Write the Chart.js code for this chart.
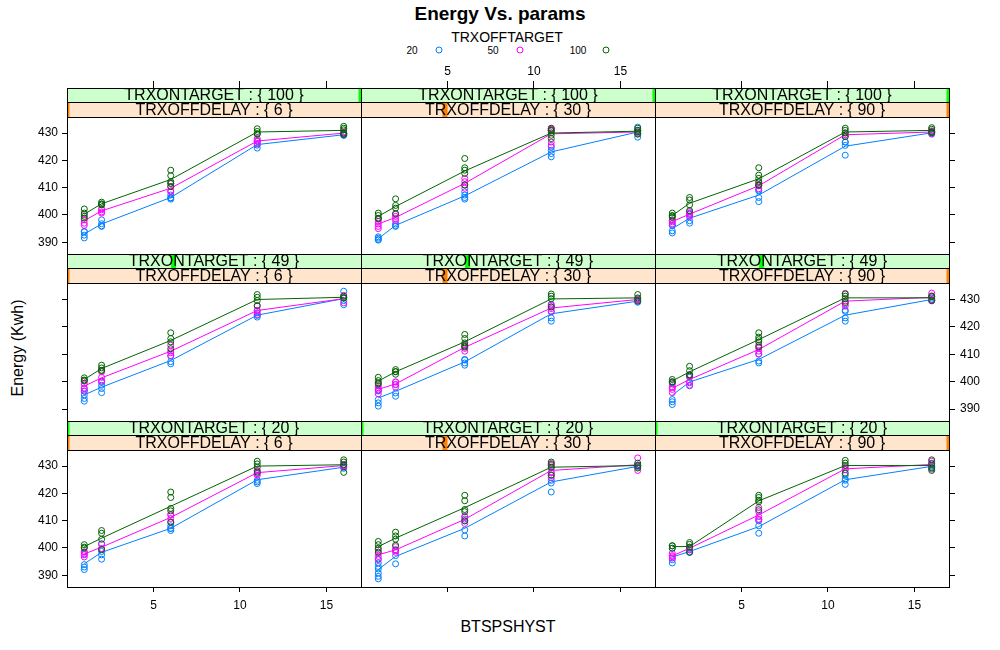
<!DOCTYPE html>
<html>
<head>
<meta charset="utf-8">
<script src="https://cdn.jsdelivr.net/npm/chart.js@4.4.1/dist/chart.umd.min.js"></script>
<style>
  body { margin: 0; background: #fff; font-family: "Liberation Sans", Arial, sans-serif; }
  #wrap { position: relative; width: 1000px; height: 650px; overflow: hidden; background: #fff; }
  #wrap canvas { position: absolute; }
  .txt { position: absolute; white-space: nowrap; color: #000; line-height: 1; transform: translate(-50%, -50%); }
  .dot { position: absolute; width: 5px; height: 5px; border: 1px solid; border-radius: 50%; transform: translate(-50%, -50%); }
</style>
</head>
<body>
<div id="wrap">
  <div class="txt" style="left:500px;top:13px;font-size:19px;font-weight:bold;">Energy Vs. params</div>
  <div class="txt" style="left:507px;top:37px;font-size:14px;">TRXOFFTARGET</div>
  <div id="legend"></div>
  <div class="txt" style="left:508px;top:627px;font-size:16px;">BTSPSHYST</div>
  <div class="txt" style="left:18px;top:348px;font-size:16px;transform:translate(-50%,-50%) rotate(-90deg);">Energy (Kwh)</div>
</div>
<script>
// factor levels
const xLevels = [1, 2, 6, 11, 16];           // BTSPSHYST
const onTargets = [100, 49, 20];             // TRXONTARGET, panel rows top to bottom
const onRange = [20, 100];
const offDelays = [6, 30, 90];               // TRXOFFDELAY, panel columns
const offRange = [6, 90];
const offTargets = ['20', '50', '100'];      // TRXOFFTARGET groups
const xTicks = [5, 10, 15];
const yTicks = [390, 400, 410, 420, 430];

// Energy readings per panel: [offtarget 20, 50, 100], each with one list per BTSPSHYST level
const on100_off6 = [
  [[393.8, 392.6, 391.6, 394.0], [398.2, 396.8, 395.8, 396.0], [407.3, 406.2, 405.8, 406.3], [426.1, 425.6, 424.5, 427.0], [429.8, 429.2, 429.4, 429.2]],
  [[398.2, 397.0, 396.2, 400.2], [401.9, 400.7, 402.3, 401.1], [410.4, 408.8, 411.5, 408.5], [427.3, 426.1, 428.0, 427.0], [430.4, 429.8, 430.0, 429.8]],
  [[402.2, 400.7, 399.5, 398.8], [404.7, 403.9, 403.7, 404.1], [416.4, 414.4, 412.2, 410.4, 411.6], [431.6, 430.6, 429.8, 429.6], [432.5, 431.8, 431.2, 430.0, 429.5]]
];
const on100_off30 = [
  [[392.0, 391.5, 390.8, 391.0], [396.7, 395.8, 396.1], [408.5, 407.3, 405.8, 406.4], [423.7, 422.5, 421.3, 424.9], [432.2, 431.0, 428.5, 429.9]],
  [[397.6, 396.7, 395.8, 395.0, 398.4], [399.5, 398.7, 397.9, 400.3], [412.2, 411.0, 409.8, 413.4], [431.6, 431.4, 431.2, 431.0, 430.8, 426.7, 425.5], [431.0, 430.4, 429.8]],
  [[400.7, 399.8, 398.8, 398.7], [405.9, 403.5, 402.5, 400.5], [420.7, 417.3, 416.4, 415.2, 411.0], [431.8, 431.0, 430.1, 429.2, 428.0], [431.8, 431.0, 430.4, 429.6]]
];
const on100_off90 = [
  [[394.2, 393.4, 396.2, 396.2], [397.0, 397.9, 399.6, 400.7], [408.8, 406.4, 404.9, 409.1], [426.7, 425.5, 421.9, 426.7], [430.6, 430.1, 429.6]],
  [[398.0, 397.5, 396.8, 398.1], [401.2, 400.3, 399.4, 400.3], [411.8, 410.7, 409.6, 410.7], [430.0, 429.4, 428.8], [430.8, 430.4, 429.8, 430.6]],
  [[400.7, 399.8, 399.1, 399.6], [406.4, 405.5, 403.7, 401.6], [417.3, 414.6, 413.4, 412.2, 411.0, 411.0], [431.8, 431.0, 430.1, 428.7], [432.0, 431.4, 430.4, 430.2]]
];
const on49_off6 = [
  [[396.6, 395.2, 393.9, 392.9, 397.4], [398.7, 397.5, 396.0, 399.8], [409.3, 406.5, 407.3], [425.0, 423.5, 424.1], [432.9, 430.5, 429.5, 428.0]],
  [[399.2, 397.7, 396.5, 400.2], [403.6, 401.6, 400.2, 400.2], [413.3, 411.1, 410.5, 409.5], [427.5, 425.9, 424.4, 425.8], [430.5, 428.7, 431.4]],
  [[401.4, 400.4, 400.6], [406.0, 405.0, 404.1, 404.1], [417.8, 415.7, 414.5, 412.0], [431.7, 430.7, 429.5, 427.7], [431.1, 430.5, 430.5]]
];
const on49_off30 = [
  [[393.5, 392.3, 391.1, 397.0, 396.6], [395.9, 394.7, 398.9], [408.1, 406.8, 406.0, 407.9], [425.4, 423.2, 422.0, 428.2], [429.7, 429.3, 428.9]],
  [[397.8, 396.8, 395.6, 398.6], [399.9, 399.0, 398.0, 399.9], [413.5, 412.1, 411.1, 413.3], [427.8, 426.6, 425.6, 427.2], [430.2, 429.8, 429.7]],
  [[401.6, 400.4, 399.2, 399.6], [404.4, 403.6, 402.7, 403.7], [417.2, 415.7, 414.1, 412.9, 412.6], [431.9, 431.1, 430.2, 427.2], [431.7, 430.5, 429.3]]
];
const on49_off90 = [
  [[393.5, 392.7, 391.7, 399.6, 398.0], [399.6, 398.5, 401.6], [407.5, 406.8, 410.0], [425.6, 423.2, 422.0, 426.0], [430.4, 429.9, 429.4]],
  [[398.0, 397.2, 396.0, 399.2], [402.0, 399.9, 398.7, 402.6], [412.3, 411.1, 410.1, 413.3], [429.3, 428.3, 427.5, 432.1], [432.2, 431.2, 429.8, 429.6]],
  [[400.8, 399.9, 400.0], [405.6, 404.0, 402.5, 402.3], [417.8, 416.2, 415.3, 414.5, 412.7], [431.9, 431.1, 430.2, 428.8], [431.1, 429.5, 430.9]]
];
const on20_off6 = [
  [[393.9, 393.0, 392.1, 397.8], [398.7, 397.5, 395.9, 401.5], [408.1, 407.2, 406.4, 407.1], [424.8, 424.2, 423.6, 427.4], [430.0, 429.6, 429.2]],
  [[398.4, 397.5, 396.7, 398.6], [401.5, 399.6, 399.8], [412.1, 410.8, 409.6, 412.3], [428.4, 427.2, 426.6, 428.2], [430.6, 430.2, 429.8]],
  [[401.2, 400.3, 400.0], [406.4, 405.4, 403.2, 399.4], [420.5, 418.5, 414.5, 413.6, 409.4], [431.8, 430.8, 429.6, 427.8], [432.3, 431.5, 430.5, 427.7]]
];
const on20_off30 = [
  [[394.5, 393.2, 392.3, 390.8, 389.6, 388.7, 396.0], [397.2, 394.2, 399.3], [406.6, 404.4, 410.6], [424.8, 423.8, 420.5, 427.7], [430.2, 429.9, 429.6]],
  [[398.1, 396.9, 395.7, 399.3], [400.5, 399.3, 398.4, 399.0], [411.5, 410.0, 409.0, 411.5], [431.0, 430.2, 427.5, 426.6, 425.8, 429.3], [433.0, 428.4, 430.2, 430.4]],
  [[402.4, 401.2, 399.9, 398.5], [405.8, 404.4, 403.2, 401.0], [419.3, 417.3, 414.1, 413.3, 409.9], [431.5, 430.6, 429.6, 426.7], [431.1, 430.2, 429.3]]
];
const on20_off90 = [
  [[395.7, 394.5, 399.9], [399.3, 398.4, 398.4], [408.1, 405.4, 409.9], [426.6, 424.8, 423.3, 425.3], [430.3, 429.9, 429.5]],
  [[398.1, 396.8, 396.3, 397.2], [400.3, 399.3, 400.1], [414.8, 413.3, 411.5, 410.5, 410.4], [429.6, 428.7, 428.7], [431.8, 431.1, 428.9]],
  [[400.8, 399.9, 400.8], [402.0, 401.3, 400.3, 398.5], [419.3, 418.5, 417.5, 416.9, 414.0], [432.1, 431.1, 430.2, 427.4], [432.3, 430.8, 428.4, 429.3]]
];

const panels = [
  [on100_off6, on100_off30, on100_off90],
  [on49_off6, on49_off30, on49_off90],
  [on20_off6, on20_off30, on20_off90]
];

// layout (lattice style)
const colors = ['#0080ff', '#ff00ff', '#006400'];
const colLeft = [67, 361, 655];
const PW = 294;
const rowTop = [88, 254, 421];
const rowBottom = [254, 421, 587];
const STRIP = 29;
const M = 45;
const X_MIN = 0, X_MAX = 17;
const Y_MIN = 385.7, Y_MAX = 435.9;
const tickFont = { family: '"Liberation Sans", Arial, sans-serif', size: 12 };

const mean = a => a.reduce((s, v) => s + v, 0) / a.length;

// legend
const legend = document.getElementById('legend');
const legendX = [[412, 439], [493, 520], [578, 606]];
offTargets.forEach((t, i) => {
  const lab = document.createElement('div');
  lab.className = 'txt';
  lab.style.cssText = `left:${legendX[i][0]}px;top:51px;font-size:10px;`;
  lab.textContent = t;
  legend.appendChild(lab);
  const dot = document.createElement('div');
  dot.className = 'dot';
  dot.style.cssText = `left:${legendX[i][1]}px;top:50px;border-color:${colors[i]};`;
  legend.appendChild(dot);
});

// strips drawn above each panel
const stripPlugin = {
  id: 'strips',
  afterDraw(chart, args, opts) {
    const { ctx, chartArea: a } = chart;
    const left = Math.round(a.left), right = Math.round(a.right);
    const yBot = Math.round(a.top);
    const yMid = yBot - 15;
    const yTop = yBot - STRIP;
    const strips = [
      { y0: yTop, y1: yMid, bg: '#ccffcc', mark: '#00ff00', frac: opts.onFrac, text: 'TRXONTARGET : { ' + opts.on + ' }' },
      { y0: yMid, y1: yBot, bg: '#ffe5cc', mark: '#ff7f00', frac: opts.offFrac, text: 'TRXOFFDELAY : { ' + opts.off + ' }' }
    ];
    ctx.save();
    strips.forEach(s => {
      ctx.fillStyle = s.bg;
      ctx.fillRect(left, s.y0, right - left, s.y1 - s.y0);
      ctx.save();
      ctx.beginPath();
      ctx.rect(left, s.y0, right - left, s.y1 - s.y0);
      ctx.clip();
      const mx = left + s.frac * (right - left);
      ctx.fillStyle = s.mark;
      ctx.fillRect(mx - 2.5, s.y0, 5, s.y1 - s.y0);
      ctx.restore();
      ctx.fillStyle = '#000';
      ctx.font = '16px "Liberation Sans", Arial, sans-serif';
      ctx.textAlign = 'center';
      ctx.textBaseline = 'middle';
      ctx.fillText(s.text, (left + right) / 2, (s.y0 + s.y1) / 2 + 1);
    });
    // outlines, one pixel each
    ctx.strokeStyle = '#000';
    ctx.lineWidth = 1;
    ctx.beginPath();
    [yTop, yMid].forEach(y => { ctx.moveTo(left, y + 0.5); ctx.lineTo(right + 1, y + 0.5); });
    ctx.moveTo(left + 0.5, yTop); ctx.lineTo(left + 0.5, yBot);
    ctx.moveTo(right + 0.5, yTop); ctx.lineTo(right + 0.5, yBot);
    ctx.stroke();
    ctx.restore();
  }
};

function makePanel(r, c) {
  const groups = panels[r][c];
  const canvas = document.createElement('canvas');
  const w = PW + 2 * M;
  const h = rowBottom[r] - rowTop[r] + 2 * M;
  canvas.width = w;
  canvas.height = h;
  canvas.style.left = (colLeft[c] - M) + 'px';
  canvas.style.top = (rowTop[r] - M) + 'px';
  canvas.style.width = w + 'px';
  canvas.style.height = h + 'px';
  document.getElementById('wrap').appendChild(canvas);

  const datasets = [];
  groups.forEach((series, s) => {
    const pts = [];
    series.forEach((vals, k) => vals.forEach(v => pts.push({ x: xLevels[k], y: v })));
    datasets.push({
      data: pts,
      showLine: false,
      pointStyle: 'circle',
      pointRadius: 3,
      pointBorderWidth: 1,
      borderColor: colors[s],
      backgroundColor: 'rgba(0,0,0,0)',
      order: 5 - 2 * s
    });
    // lattice type "a": line through the group averages
    datasets.push({
      data: series.map((vals, k) => ({ x: xLevels[k], y: mean(vals) })),
      showLine: true,
      pointRadius: 0,
      borderWidth: 1,
      borderColor: colors[s],
      backgroundColor: colors[s],
      tension: 0,
      order: 4 - 2 * s
    });
  });

  const setX = s => { s.ticks = xTicks.map(v => ({ value: v })); };
  const setY = s => { s.ticks = yTicks.map(v => ({ value: v })); };
  const axisCommon = {
    border: { display: true, color: '#000', width: 1 },
  };

  new Chart(canvas, {
    type: 'scatter',
    data: { datasets },
    options: {
      responsive: false,
      animation: false,
      devicePixelRatio: 1,
      layout: { padding: 0 },
      plugins: {
        legend: { display: false },
        tooltip: { enabled: false },
        strips: {
          on: onTargets[r],
          off: offDelays[c],
          onFrac: (onTargets[r] - onRange[0]) / (onRange[1] - onRange[0]),
          offFrac: (offDelays[c] - offRange[0]) / (offRange[1] - offRange[0])
        }
      },
      scales: {
        x: {
          ...axisCommon,
          type: 'linear', position: 'bottom', min: X_MIN, max: X_MAX,
          afterBuildTicks: setX,
          afterFit: s => { s.height = M; },
          ticks: { display: r === 2 && c !== 1, padding: 6, font: tickFont, color: '#000' },
          grid: { drawOnChartArea: false, drawTicks: r === 2, tickLength: 5, color: '#000' }
        },
        xTop: {
          ...axisCommon,
          type: 'linear', position: 'top', min: X_MIN, max: X_MAX,
          afterBuildTicks: setX,
          afterFit: s => { s.height = M + STRIP; },
          ticks: { display: r === 0 && c === 1, padding: 2, font: tickFont, color: '#000' },
          grid: { drawOnChartArea: false, drawTicks: r === 0, tickLength: STRIP + 7, color: '#000' }
        },
        y: {
          ...axisCommon,
          type: 'linear', position: 'left', min: Y_MIN, max: Y_MAX,
          afterBuildTicks: setY,
          afterFit: s => { s.width = M; },
          ticks: { display: c === 0 && r !== 1, padding: 4, font: tickFont, color: '#000' },
          grid: { drawOnChartArea: false, drawTicks: c === 0, tickLength: 5, color: '#000' }
        },
        yRight: {
          ...axisCommon,
          type: 'linear', position: 'right', min: Y_MIN, max: Y_MAX,
          afterBuildTicks: setY,
          afterFit: s => { s.width = M; },
          ticks: { display: c === 2 && r === 1, padding: 5, font: tickFont, color: '#000' },
          grid: { drawOnChartArea: false, drawTicks: c === 2, tickLength: 6, color: '#000' }
        }
      }
    },
    plugins: [stripPlugin]
  });
}

for (let r = 0; r < 3; r++) {
  for (let c = 0; c < 3; c++) makePanel(r, c);
}
</script>
</body>
</html>
